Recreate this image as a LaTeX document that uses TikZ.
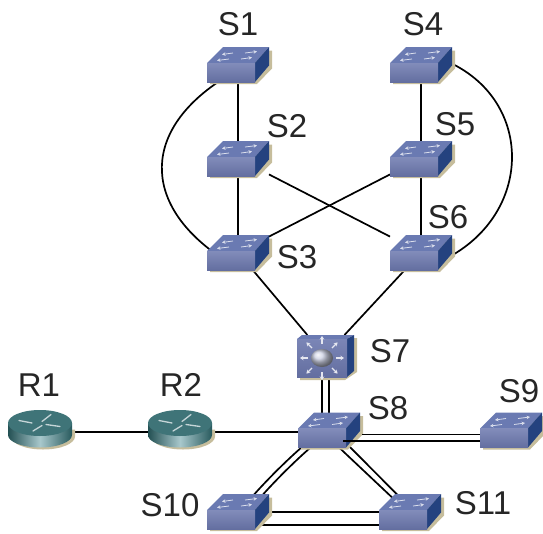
\documentclass[tikz,border=0pt]{standalone}
\usepackage{fontspec}
\setmainfont{Liberation Sans}
\usetikzlibrary{calc,arrows.meta}
\definecolor{swfront}{HTML}{6C78AE}
\definecolor{swtop}{HTML}{6A7AB2}
\definecolor{swside}{HTML}{24427F}
\definecolor{swshadow}{HTML}{C6BD9C}
\definecolor{rtlo}{HTML}{2C6468}
\definecolor{rthi}{HTML}{A8C8CC}
\definecolor{rttop}{HTML}{3F7478}
\tikzset{
  anchorbox/.style={inner sep=0pt,outer sep=0pt,minimum width=#1,rectangle},
  wire/.style={draw=black,line width=1.7pt},
  lbl/.style={inner sep=0pt,font=\fontsize{33}{33}\selectfont,text=black!85},
  flow/.style={draw=white!75!swtop,line width=0.8pt,-{Stealth[length=3.5pt,width=3.5pt]}},
  ray/.style={draw=white!82!swfront,line width=1.1pt,-{Stealth[length=3.5pt,width=4.5pt]}}
}
\newcommand\drawswitch[1]{%
  \begin{scope}[shift={(#1.center)}]
    \fill[swshadow] (-28,19.5) -- (19,19.5) -- (34,4) -- (34,-14) -- (20,-14) -- (-28,14) -- cycle;
    \fill[swtop] (-31,-1.5) -- (-15,-17.5) -- (31,-17.5) -- (17,-1.5) -- cycle;
    \fill[swside] (17,-1.5) -- (31,-17.5) -- (31,1) -- (17,17.5) -- cycle;
    \shade[top color=swfront!85!white,bottom color=swfront!92!black] (-31,-1.5) rectangle (17,17.5);
    \draw[flow] (-5,-11.5) -- (-16,-10);
    \draw[flow] (7,-11.5) -- (19,-13);
    \draw[flow] (-9,-5.5) -- (-21,-4);
    \draw[flow] (3,-5.5) -- (14,-7);
  \end{scope}}
\newcommand\drawrouter[1]{%
  \begin{scope}[shift={(#1.center)}]
    \fill[swshadow] (-29,7) arc[start angle=180,end angle=0,x radius=32,y radius=13] -- (35,0) -- (-29,0) -- cycle;
    \shade[left color=rtlo!80!black,right color=rtlo!90!black,middle color=rthi]
      (-32,-6.5) -- (-32,5.5) arc[start angle=180,end angle=0,x radius=32,y radius=12.5] -- (32,-6.5) -- cycle;
    \fill[rttop] (0,-6.5) ellipse[x radius=32,y radius=13];
    \draw[draw=white!70!rttop,line width=1.3pt,line cap=round] (-21,-9) -- (-8,-6.5);
    \draw[draw=white!70!rttop,line width=1.3pt,line cap=round] (2,-8) -- (11,-15);
    \draw[draw=white!70!rttop,line width=1.3pt,line cap=round] (6,-5) -- (20,-3);
    \draw[draw=white!70!rttop,line width=1.3pt,line cap=round] (-7,1.5) -- (2,-4);
  \end{scope}}
\newcommand\drawmulti[1]{%
  \begin{scope}[shift={(#1.center)}]
    \fill[swshadow] (-25,24) -- (20,24) -- (32,16) -- (32,-18) -- (20,-18) -- (-25,18) -- cycle;
    \fill[swtop] (-28,-17) -- (-23,-21) -- (29,-21) -- (22,-17) -- cycle;
    \fill[swside] (22,-17) -- (29,-21) -- (29,15) -- (22,21) -- cycle;
    \shade[top color=swfront!90!white,bottom color=swfront!92!black] (-28,-17) rectangle (22,21);
    \foreach \a in {0,45,...,315}{
      \draw[ray] ($(-3,2)+(\a:14)$) -- ($(-3,2)+(\a:22)$);
    }
    \shade[ball color=white!65!swfront] (-3,2) ellipse[x radius=11,y radius=9];
  \end{scope}}
\begin{document}
\begin{tikzpicture}[x=1pt,y=-1pt]
\useasboundingbox (0,0) rectangle (543,533);
% devices (anchors)
\node[anchorbox=62pt,minimum height=35pt] (s1) at (238,64.5) {};
\node[anchorbox=62pt,minimum height=35pt] (s2) at (238,158.5) {};
\node[anchorbox=62pt,minimum height=35pt] (s3) at (238,252.5) {};
\node[anchorbox=62pt,minimum height=35pt] (s4) at (421,64.5) {};
\node[anchorbox=62pt,minimum height=35pt] (s5) at (421,158.5) {};
\node[anchorbox=62pt,minimum height=35pt] (s6) at (421,252.5) {};
\node[anchorbox=56pt,minimum height=42pt] (s7) at (325,356) {};
\node[anchorbox=62pt,minimum height=35pt] (s8) at (329,430) {};
\node[anchorbox=62pt,minimum height=35pt] (s9) at (511,430) {};
\node[anchorbox=62pt,minimum height=35pt] (s10) at (238,511.5) {};
\node[anchorbox=62pt,minimum height=35pt] (s11) at (410,511.5) {};
\node[anchorbox=64pt,minimum height=38pt] (r1) at (40,429.5) {};
\node[anchorbox=64pt,minimum height=38pt] (r2) at (180,429.5) {};
% connectors below the devices
\draw[wire] (s1) -- (s2);
\draw[wire] (s2) -- (s3);
\draw[wire] (s4) -- (s5);
\draw[wire] (s5) -- (s6);
\draw[wire] ($(s1)+(-13,13)$) .. controls ($(s1)+(-96,65)$) and ($(s3)+(-96,-50)$) .. ($(s3)+(-20,3)$);
\draw[wire] ($(s4)+(19,-6)$) .. controls ($(s4)+(115,30)$) and ($(s6)+(115,-35)$) .. ($(s6)+(19,9)$);
\draw[wire] (s2) -- (s6);
\draw[wire] (s5) -- (s3);
\draw[wire] (s3) -- (s7);
\draw[wire] (s6) -- (s7);
\draw[wire] ($(r1)+(0,2.5)$) -- ($(r2)+(0,2.5)$);
\draw[wire] ($(r2)+(0,2.5)$) -- ($(s8)+(0,2)$);
\draw[wire] ($(s7)+(-3,0)$) .. controls ($(s7)+(-3,30)$) .. ($(s8)+(-7,0)$);
\draw[wire] ($(s7)+(4,0)$) .. controls ($(s7)+(4,30)$) .. ($(s8)+(0,0)$);
\draw[wire] ($(s8)+(-10,3)$) .. controls ($(s8)+(-35,22)$) and ($(s10)+(24,-27)$) .. ($(s10)+(7,-6.5)$);
\draw[wire] ($(s8)+(-2,4)$) .. controls ($(s8)+(-27,23)$) and ($(s10)+(32,-26)$) .. ($(s10)+(15,-5.5)$);
\draw[wire] ($(s8)+(0,8)$) -- ($(s11)+(-3,0)$);
\draw[wire] ($(s8)+(8,4)$) -- ($(s11)+(4,0)$);
\draw[wire] ($(s10)+(0,0.5)$) -- ($(s11)+(0,0.5)$);
\draw[wire] ($(s10)+(0,13.5)$) -- ($(s11)+(0,13.5)$);
% devices
\drawswitch{s1}\drawswitch{s2}\drawswitch{s3}
\drawswitch{s4}\drawswitch{s5}\drawswitch{s6}
\drawmulti{s7}
\drawswitch{s8}\drawswitch{s9}\drawswitch{s10}\drawswitch{s11}
\drawrouter{r1}\drawrouter{r2}
% connectors above S8
\draw[wire] ($(s8)+(14,11)$) -- ($(s9)+(-31,11)$);
\draw[wire] ($(s8)+(33,4.5)$) -- ($(s9)+(-31,4.5)$);
% labels
\node[lbl] (ls1) at (238,24) {S1};
\node[lbl] (ls2) at (287,126) {S2};
\node[lbl] (ls3) at (297,257) {S3};
\node[lbl] (ls4) at (423,24) {S4};
\node[lbl] (ls5) at (455,124) {S5};
\node[lbl] (ls6) at (448,217) {S6};
\node[lbl] (ls7) at (390,351) {S7};
\node[lbl] (ls8) at (388,408) {S8};
\node[lbl] (ls9) at (519,391) {S9};
\node[lbl] (ls10) at (170,505) {S10};
\node[lbl] (ls11) at (483,503) {S11};
\node[lbl] (lr1) at (39,385) {R1};
\node[lbl] (lr2) at (181,385) {R2};
\end{tikzpicture}
\end{document}
